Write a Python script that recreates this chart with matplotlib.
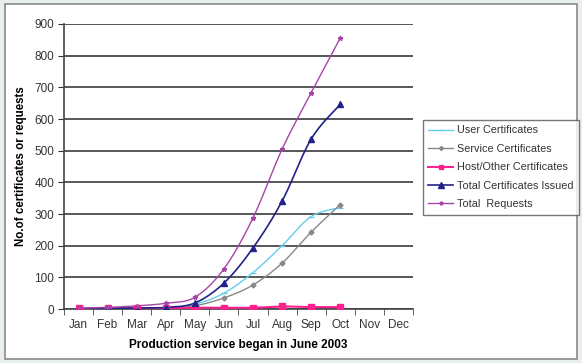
import numpy as np
import matplotlib
matplotlib.use("Agg")
import matplotlib.pyplot as plt
from matplotlib.patches import Rectangle

months = ["Jan", "Feb", "Mar", "Apr", "May", "Jun", "Jul", "Aug", "Sep", "Oct", "Nov", "Dec"]
user_certs = [1, 2, 3, 3, 15, 50, 115, 200, 292, 320]
service_certs = [1, 1, 2, 2, 10, 35, 76, 145, 243, 330]
host_certs = [2, 2, 2, 3, 4, 4, 4, 8, 6, 6]
total_issued = [1, 2, 3, 5, 19, 82, 193, 341, 537, 646]
total_requests = [2, 5, 10, 18, 37, 127, 288, 505, 683, 856]
y_ticks = [0, 100, 200, 300, 400, 500, 600, 700, 800, 900]

plt.rcParams["font.family"] = ["Liberation Sans", "DejaVu Sans"]


def smooth(xs, ys, n=20):
    """Catmull-Rom style smoothing like a spreadsheet's smoothed line."""
    xs = np.asarray(xs, float)
    ys = np.asarray(ys, float)
    px = np.concatenate([[xs[0]], xs, [xs[-1]]])
    py = np.concatenate([[ys[0]], ys, [ys[-1]]])
    ox, oy = [], []
    for i in range(1, len(px) - 2):
        p0 = np.array([px[i - 1], py[i - 1]])
        p1 = np.array([px[i], py[i]])
        p2 = np.array([px[i + 1], py[i + 1]])
        p3 = np.array([px[i + 2], py[i + 2]])
        c1 = p1 + (p2 - p0) / 6.0
        c2 = p2 - (p3 - p1) / 6.0
        t = np.linspace(0, 1, n)[:, None]
        pts = ((1 - t) ** 3) * p1 + 3 * ((1 - t) ** 2) * t * c1 + 3 * (1 - t) * t ** 2 * c2 + t ** 3 * p2
        ox.extend(pts[:, 0])
        oy.extend(pts[:, 1])
    return ox, oy


fig = plt.figure(figsize=(5.82, 3.63), dpi=100)
fig.patch.set_facecolor("#e9eeee")
fig.patches.append(Rectangle((0.008, 0.012), 0.984, 0.978, transform=fig.transFigure,
                             facecolor="white", edgecolor="#8a8a8a", linewidth=1.2, zorder=-5))

ax = fig.add_axes([64 / 582, 1 - 309 / 363, (413 - 64) / 582, (309 - 24) / 363])
ax.set_facecolor("white")

x = np.arange(len(user_certs))
series = [
    ("User Certificates", user_certs, "#66ccee", "_", 4, 1.0),
    ("Service Certificates", service_certs, "#888888", "D", 2.5, 1.0),
    ("Host/Other Certificates", host_certs, "#ff1f8f", "s", 4, 1.5),
    ("Total Certificates Issued", total_issued, "#222288", "^", 5, 1.2),
    ("Total  Requests", total_requests, "#a645a6", "*", 3.5, 1.0),
]
for label, vals, color, marker, ms, lw in series:
    sx, sy = smooth(x, vals)
    ax.plot(sx, sy, color=color, lw=lw, zorder=3)
    ax.plot(x, vals, linestyle="none", marker=marker, color=color, ms=ms, zorder=4)
    ax.plot([], [], color=color, lw=lw, marker=marker, ms=ms * 0.8, label=label)

ax.set_xlim(-0.5, 11.5)
ax.set_ylim(0, 900)
ax.set_yticks(y_ticks)
ax.set_xticks(np.arange(12))
ax.set_xticklabels(months)
ax.set_xticks(np.arange(-0.5, 12, 1), minor=True)
ax.tick_params(axis="x", which="major", length=0, pad=7, labelsize=8.5, colors="#333333")
ax.tick_params(axis="x", which="minor", length=4, direction="out", color="#444444")
ax.tick_params(axis="y", length=4, direction="out", labelsize=8.5, colors="#333333", pad=3)
ax.grid(axis="y", color="#3a3a3a", linewidth=1.2, zorder=0)
ax.set_axisbelow(True)
for side in ("top", "right"):
    ax.spines[side].set_visible(False)
for side in ("left", "bottom"):
    ax.spines[side].set_color("#444444")
    ax.spines[side].set_linewidth(1.2)

ax.set_xlabel("Production service began in June 2003", fontsize=8.5, fontweight="bold", labelpad=6)
ax.set_ylabel("No.of certificates or requests", fontsize=8.3, fontweight="bold", labelpad=5)

leg = fig.legend(loc="upper left", bbox_to_anchor=(423 / 582, 1 - 120 / 363), fontsize=7.8,
                 frameon=True, fancybox=False, edgecolor="#555555", handlelength=2.3,
                 handletextpad=0.3, labelspacing=0.78, borderpad=0.5, borderaxespad=0)
leg.get_frame().set_linewidth(1.0)
for t in leg.get_texts():
    t.set_color("#333333")

fig.savefig("out.png", dpi=100, facecolor=fig.get_facecolor())
